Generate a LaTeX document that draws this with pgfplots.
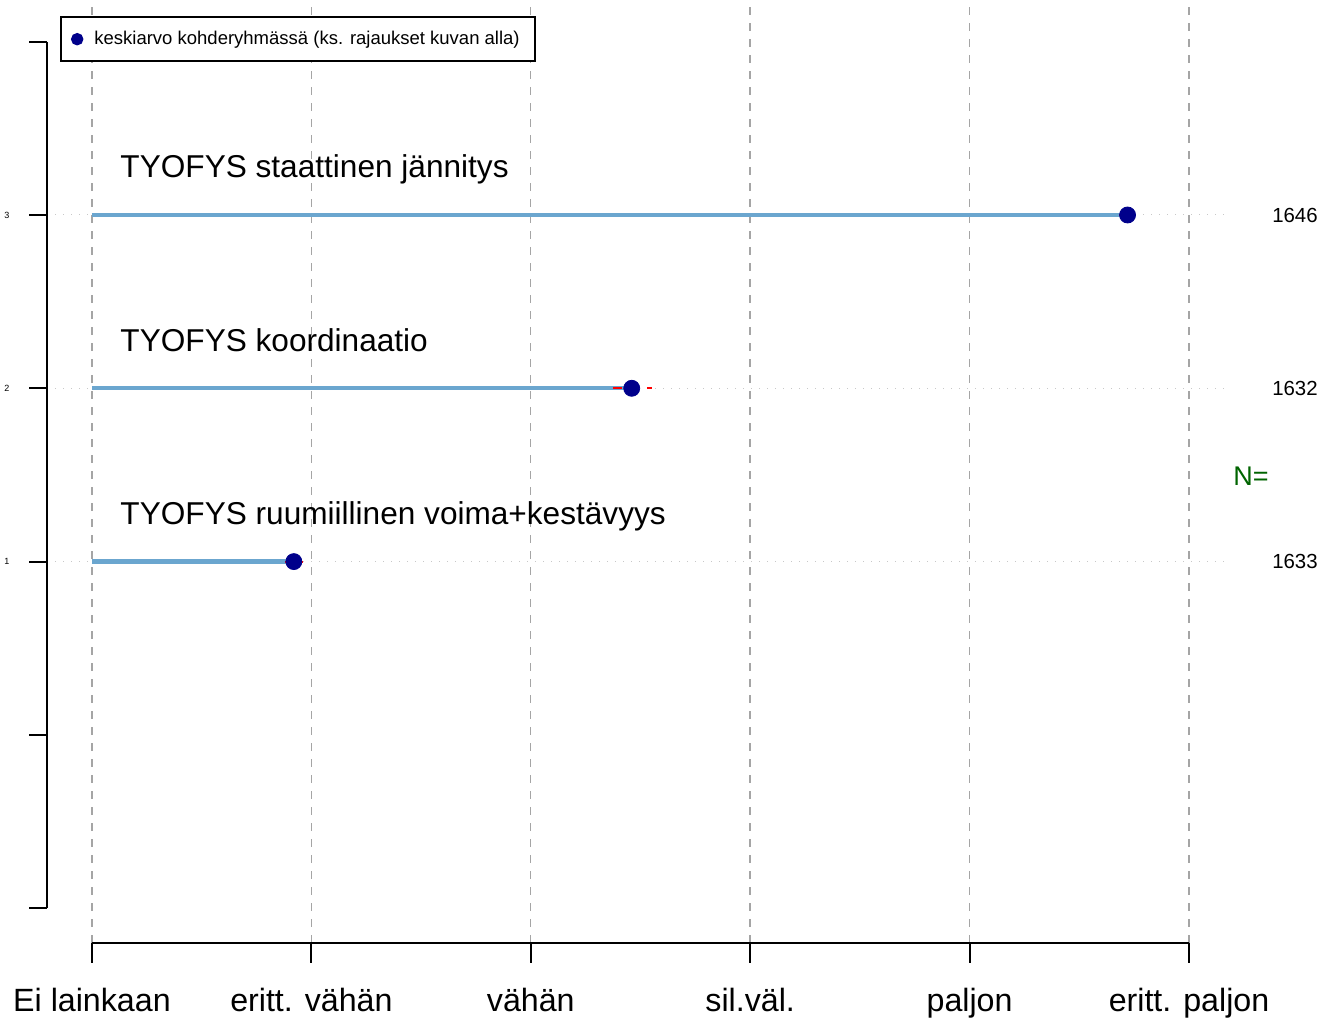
\documentclass[border=0pt]{standalone}
\usepackage{pgfplots}
\pgfplotsset{compat=1.18}
\usepackage{fontspec}
\setmainfont{Liberation Sans}
\definecolor{lineblue}{RGB}{107,166,207}
\definecolor{ptnavy}{RGB}{0,0,139}
\definecolor{gridgray}{RGB}{165,165,165}
\definecolor{dotgray}{RGB}{200,200,200}
\definecolor{ngreen}{RGB}{0,100,0}
\begin{document}
\begin{tikzpicture}
\begin{axis}[
    width=667.5pt, height=509.5pt, scale only axis,
    xmin=0.5807, xmax=6.6655, ymin=-1.6393, ymax=4.2406,
    axis lines=none, clip=false,
    legend style={at={(0.04494,0.9843)}, anchor=north west, draw=black,
      line width=1pt, font=\fontsize{9.25pt}{11pt}\selectfont,
      inner xsep=5.5pt, inner ysep=5pt,
      /tikz/every odd column/.append style={column sep=4pt}},
    legend cell align=left,
  ]
  % grid
  \foreach \x in {1,...,6} {
    \edef\tmp{\noexpand\draw[gridgray, line width=0.7pt, dash pattern=on 4pt off 4pt]
      (axis cs:\x,-1.2) -- (axis cs:\x,4.2);}\tmp
  }
  \foreach \y in {1,2,3} {
    \edef\tmp{\noexpand\draw[dotgray, line width=0.5pt, dash pattern=on 0.5pt off 3.5pt]
      (axis cs:0.795,\y) -- (axis cs:6.19,\y);}\tmp
  }
  % axes
  \draw[line width=1pt] (axis cs:1,-1.2) -- (axis cs:6,-1.2);
  \foreach \x/\lab in {1/Ei lainkaan,2/eritt. vähän,3/vähän,4/sil.väl.,5/paljon,6/eritt. paljon} {
    \edef\tmp{\noexpand\draw[line width=1pt] (axis cs:\x,-1.2) -- (axis cs:\x,-1.315);}\tmp
    \edef\tmp{\noexpand\node[anchor=base, font=\noexpand\fontsize{16.1pt}{18pt}\noexpand\selectfont, inner sep=0pt]
      at (axis cs:\x,-1.595) {\lab};}\tmp
  }
  \draw[line width=1pt] (axis cs:0.795,-1) -- (axis cs:0.795,4);
  \foreach \y in {-1,0,1,2,3,4} {
    \edef\tmp{\noexpand\draw[line width=1pt] (axis cs:0.795,\y) -- (axis cs:0.715,\y);}\tmp
  }
  \foreach \y in {1,2,3} {
    \edef\tmp{\noexpand\node[font=\noexpand\fontsize{4.5pt}{5pt}\noexpand\selectfont, inner sep=0pt]
      at (axis cs:0.6126,\y) {\y};}\tmp
  }
  % bars
  \addplot[lineblue, line width=2.2pt, forget plot] coordinates {(1,3) (5.72,3)};
  \addplot[lineblue, line width=2.2pt, forget plot] coordinates {(1,2) (3.46,2)};
  \addplot[lineblue, line width=2.2pt, forget plot] coordinates {(1,1) (1.92,1)};
  % means
  \addplot[only marks, mark=*, mark size=4pt, mark options={fill=ptnavy, draw=ptnavy},
    legend image post style={mark size=2.6pt}]
    coordinates {(5.72,3) (3.46,2) (1.92,1)};
  \addlegendentry{keskiarvo kohderyhmässä (ks. rajaukset kuvan alla)}
  % confidence intervals
  \addplot[red, line width=1pt, dash pattern=on 4.5pt off 4pt, forget plot] coordinates {(5.68,3) (5.72,3)};
  \addplot[red, line width=1pt, dash pattern=on 4.5pt off 4pt, forget plot] coordinates {(3.375,2) (3.552,2)};
  \addplot[red, line width=1pt, dash pattern=on 4.5pt off 4pt, forget plot] coordinates {(1.88,1) (1.96,1)};
  % labels
  \node[anchor=base west, inner sep=0pt, font=\fontsize{15.8pt}{18pt}\selectfont] at (axis cs:1.128,3.215) {TYOFYS staattinen jännitys};
  \node[anchor=base west, inner sep=0pt, font=\fontsize{15.8pt}{18pt}\selectfont] at (axis cs:1.128,2.215) {TYOFYS koordinaatio};
  \node[anchor=base west, inner sep=0pt, font=\fontsize{15.8pt}{18pt}\selectfont] at (axis cs:1.128,1.215) {TYOFYS ruumiillinen voima+kestävyys};
  \node[inner sep=0pt, font=\fontsize{10.2pt}{12pt}\selectfont] at (axis cs:6.483,3) {1646};
  \node[inner sep=0pt, font=\fontsize{10.2pt}{12pt}\selectfont] at (axis cs:6.483,2) {1632};
  \node[inner sep=0pt, font=\fontsize{10.2pt}{12pt}\selectfont] at (axis cs:6.483,1) {1633};
  \node[inner sep=0pt, text=ngreen, font=\fontsize{13.5pt}{15pt}\selectfont] at (axis cs:6.283,1.494) {N=};
\end{axis}
\pgfresetboundingbox
\path (0,0) rectangle (667.5pt,509.5pt);
\end{tikzpicture}
\end{document}
